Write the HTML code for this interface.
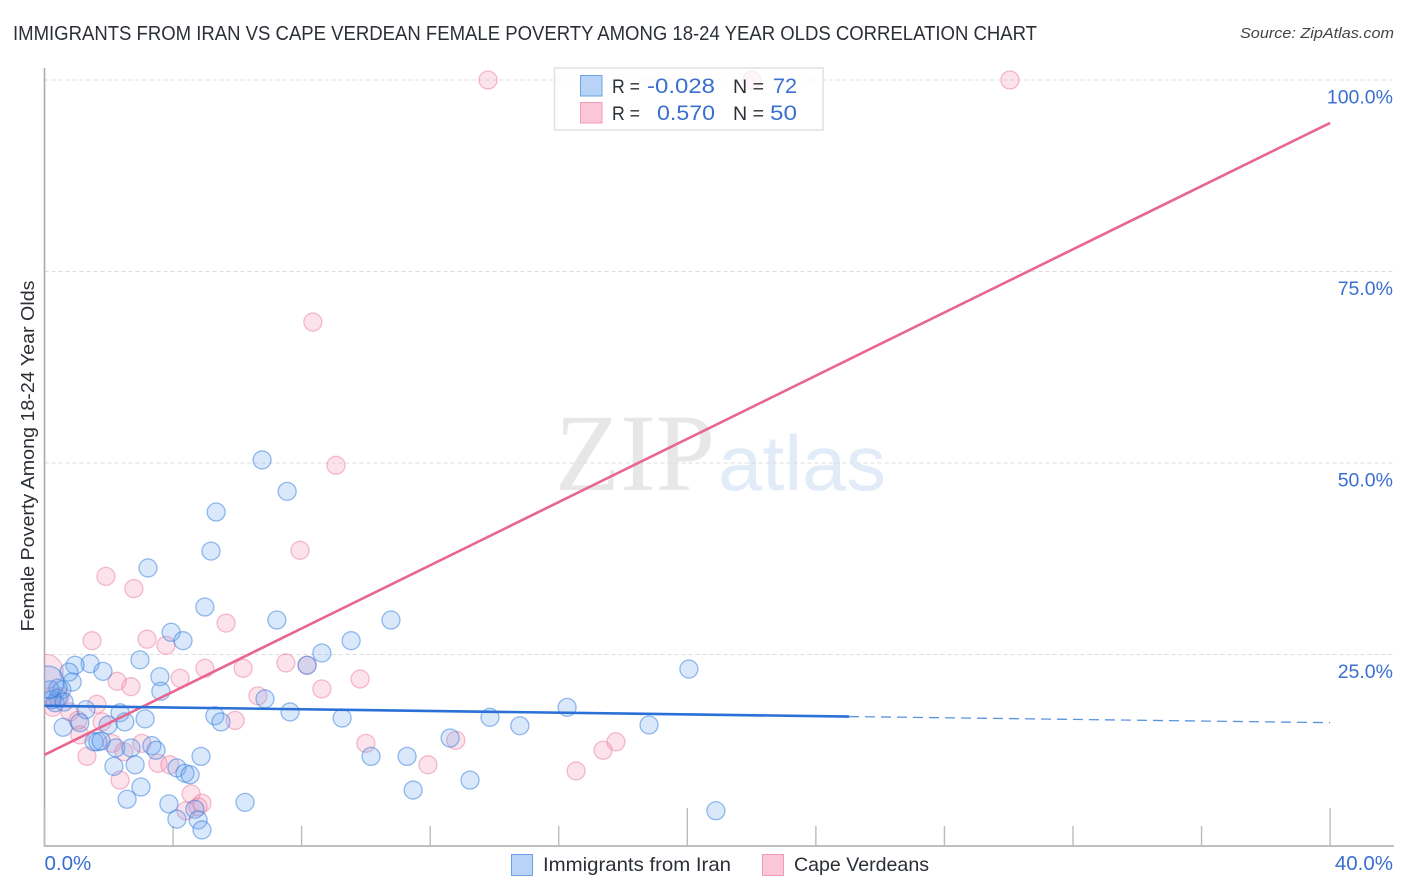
<!DOCTYPE html>
<html lang="en">
<head>
<meta charset="utf-8">
<title>Immigrants from Iran vs Cape Verdean Female Poverty Correlation Chart</title>
<style>
html,body{margin:0;padding:0;background:#fff;width:1406px;height:892px;overflow:hidden}
svg{display:block}
text{font-family:"Liberation Sans",sans-serif}
</style>
</head>
<body>
<svg id="chart" width="1406" height="892" viewBox="0 0 1406 892" xmlns="http://www.w3.org/2000/svg">
<defs><clipPath id="plot-clip"><rect x="44.5" y="60" width="1350" height="786"/></clipPath></defs>
<text x="13" y="40" font-size="20" fill="#2b2f36" textLength="1024" lengthAdjust="spacingAndGlyphs">IMMIGRANTS FROM IRAN VS CAPE VERDEAN FEMALE POVERTY AMONG 18-24 YEAR OLDS CORRELATION CHART</text>
<text x="1394" y="38" font-size="15" font-style="italic" fill="#444" text-anchor="end" textLength="154" lengthAdjust="spacingAndGlyphs">Source: ZipAtlas.com</text>
<g>
<text x="555" y="490" font-size="110" fill="#e7e7e7" textLength="160" lengthAdjust="spacingAndGlyphs" style="font-family:'Liberation Serif',serif">ZIP</text>
<text x="718" y="490" font-size="78" fill="#e2ebf8" textLength="168" lengthAdjust="spacingAndGlyphs">atlas</text>
</g>
<g id="grid"></g>
<g id="axes"></g>
<g id="points" clip-path="url(#plot-clip)"></g>
<g id="trends"></g>
<text transform="translate(34,456) rotate(-90)" font-size="18" fill="#2b2f36" text-anchor="middle" textLength="351" lengthAdjust="spacingAndGlyphs">Female Poverty Among 18-24 Year Olds</text>
<g>
<rect x="554.5" y="68" width="268.5" height="62" fill="#fff" fill-opacity=".72" stroke="#e2e2e2" stroke-width="1.6"/>
<rect x="580.5" y="75.5" width="21.5" height="20.5" fill="#b8d3f6" stroke="#6ba3e6" stroke-width="1"/>
<rect x="580.5" y="102.5" width="21.5" height="20.5" fill="#fcc6d9" stroke="#f29ab8" stroke-width="1"/>
<text x="612" y="93" font-size="19.5" fill="#2b2f36" textLength="28" lengthAdjust="spacingAndGlyphs">R =</text>
<text x="647" y="93" font-size="21.5" fill="#3a6fd0" textLength="68" lengthAdjust="spacingAndGlyphs">-0.028</text>
<text x="733" y="93" font-size="19.5" fill="#2b2f36" textLength="31" lengthAdjust="spacingAndGlyphs">N =</text>
<text x="773" y="93" font-size="21.5" fill="#3a6fd0" textLength="24" lengthAdjust="spacingAndGlyphs">72</text>
<text x="612" y="120" font-size="19.5" fill="#2b2f36" textLength="28" lengthAdjust="spacingAndGlyphs">R =</text>
<text x="657" y="120" font-size="21.5" fill="#3a6fd0" textLength="58" lengthAdjust="spacingAndGlyphs">0.570</text>
<text x="733" y="120" font-size="19.5" fill="#2b2f36" textLength="31" lengthAdjust="spacingAndGlyphs">N =</text>
<text x="770" y="120" font-size="21.5" fill="#3a6fd0" textLength="27" lengthAdjust="spacingAndGlyphs">50</text>
</g>
<g>
<rect x="511.5" y="854.5" width="21" height="21" fill="#b8d3f6" stroke="#6ba3e6" stroke-width="1"/>
<text x="543" y="871" font-size="19.5" fill="#2b2f36" textLength="188" lengthAdjust="spacingAndGlyphs">Immigrants from Iran</text>
<rect x="762.5" y="854.5" width="21" height="21" fill="#fcc6d9" stroke="#f29ab8" stroke-width="1"/>
<text x="794" y="871" font-size="19.5" fill="#2b2f36" textLength="135" lengthAdjust="spacingAndGlyphs">Cape Verdeans</text>
</g>
</svg>
<script>
const yTickValues = [25, 50, 75, 100];
const yTickLabels = ['25.0%', '50.0%', '75.0%', '100.0%'];
const xTickValues = [0, 4, 8, 12, 16, 20, 24, 28, 32, 36, 40];
const xEndValues = [0, 40];
const xEndLabels = ['0.0%', '40.0%'];

const iranX = [6.77,7.55,5.34,5.18,3.22,4.99,7.23,10.78,3.94,4.31,9.54,8.63,2.97,8.17,20.05,1.42,0.95,1.82,0.76,0.86,3.59,3.62,0.54,0.42,0.33,1.29,0.58,1.10,1.98,2.35,2.50,3.13,1.54,1.66,1.76,2.22,2.69,3.34,3.47,2.16,2.82,4.87,4.12,4.37,4.53,3.00,2.57,3.87,6.24,4.68,4.12,4.78,4.90,6.86,5.30,5.49,7.64,9.26,10.16,11.28,11.47,12.62,13.24,13.86,14.79,16.26,18.81,20.89,0.17,0.23,0.42,0.61];
const iranY = [50.4,46.3,43.6,38.5,36.3,31.2,29.5,29.5,27.9,26.8,26.8,25.2,24.3,23.6,23.1,23.8,23.6,22.8,22.7,21.4,22.1,20.2,20.4,19.3,18.7,17.8,15.5,16.1,15.8,17.4,16.2,16.6,13.6,13.6,13.7,12.8,12.8,13.1,12.5,10.4,10.6,11.7,10.2,9.5,9.3,7.7,6.1,5.5,5.7,4.8,3.5,3.4,2.1,19.2,17.0,16.2,17.5,16.7,11.7,11.7,7.3,14.1,8.6,16.8,15.7,18.1,15.8,4.6,20.4,19.1,20.6,18.8];
const iranLargeX = [0.11];
const iranLargeY = [21.4];

const capeX = [13.80,22.01,30.04,8.35,9.07,7.95,1.91,2.78,5.65,1.48,3.19,3.78,4.99,6.18,7.51,8.17,4.22,2.26,2.69,8.63,9.82,6.64,5.93,1.63,1.79,0.79,0.48,0.26,1.04,1.10,2.10,1.32,2.47,3.03,3.53,3.90,2.35,4.56,4.90,4.78,4.40,10.00,11.93,12.80,16.54,17.38,17.78,0.26];
const capeY = [100,100,100,68.4,49.7,38.6,35.2,33.6,29.1,26.8,27.0,26.2,23.2,23.2,23.9,23.6,21.9,21.5,20.8,20.5,21.8,19.6,16.4,18.5,16.2,17.5,19.5,18.1,16.4,14.5,13.4,11.7,12.3,13.4,10.8,10.6,8.6,6.8,5.6,5.1,4.6,13.4,10.6,13.8,9.8,12.5,13.6,19.5];
const capeLargeX = [0.05];
const capeLargeY = [22.8];

const iranTrendX = [0, 25.03];
const iranTrendY = [18.3, 16.9];
const iranTrendDashedX = [25.03, 40];
const iranTrendDashedY = [16.9, 16.1];
const capeTrendX = [0, 40];
const capeTrendY = [11.9, 94.4];

const NS = 'http://www.w3.org/2000/svg';
function sx(v) { return 44.5 + v * 32.14; }
function sy(v) { return 846 - v * 7.66; }
function make(tag, attrs, parent) {
  const el = document.createElementNS(NS, tag);
  for (const k in attrs) el.setAttribute(k, attrs[k]);
  parent.appendChild(el);
  return el;
}
const grid = document.getElementById('grid');
const axes = document.getElementById('axes');
const points = document.getElementById('points');
const trends = document.getElementById('trends');

yTickValues.forEach(function (v, i) {
  const line = make('line', {x1: 44.5, x2: 1394, y1: sy(v), y2: sy(v), stroke: '#dcdcdc', 'stroke-width': 1, 'stroke-dasharray': '4 3'}, grid);
  
  
  const label = make('text', {x: 1393, y: sy(v) + 23.5, 'font-size': 19.5, fill: '#3a6fd0', 'text-anchor': 'end'}, axes);
  label.textContent = yTickLabels[i];
  
  
});

const yAxis = make('line', {x1: 44.5, x2: 44.5, y1: 68, y2: 846.5, stroke: '#aaa', 'stroke-width': 1.6}, axes);


const xAxis = make('line', {x1: 44, x2: 1394, y1: 846, y2: 846, stroke: '#aaa', 'stroke-width': 1.6}, axes);



xTickValues.forEach(function (v, i) {
  const top = i % 5 === 0 ? 808 : 826;
  const tick = make('line', {x1: sx(v), x2: sx(v), y1: top, y2: 846, stroke: '#bbb', 'stroke-width': 1.4}, axes);
  
  
});

xEndValues.forEach(function (v, i) {
  const label = make('text', {x: i === 0 ? sx(v) : 1393, y: 870, 'font-size': 20.5, fill: '#3a6fd0', 'text-anchor': i === 0 ? 'start' : 'end'}, axes);
  label.textContent = xEndLabels[i];
  
  
});

function drawSeries(xs, ys, r, fill, stroke, name) {
  xs.forEach(function (v, i) {
    const c = make('circle', {cx: sx(v), cy: sy(ys[i]), r: r, fill: fill, 'fill-opacity': 0.25, stroke: stroke, 'stroke-opacity': 0.5, 'stroke-width': 1.3}, points);
    
    
  });
}
drawSeries(capeX, capeY, 9, '#f48fb1', '#ec7ba3', 'point-cape-verdean');
drawSeries(capeLargeX, capeLargeY, 17, '#f48fb1', '#ec7ba3', 'point-cape-verdean-large');
drawSeries(iranX, iranY, 9, '#6aa5ee', '#2f7bdc', 'point-iran');
drawSeries(iranLargeX, iranLargeY, 16, '#6aa5ee', '#2f7bdc', 'point-iran-large');

const capeTrend = make('line', {x1: sx(capeTrendX[0]), y1: sy(capeTrendY[0]), x2: sx(capeTrendX[1]), y2: sy(capeTrendY[1]), stroke: '#e8668f', 'stroke-width': 2.6}, trends);


const iranTrend = make('line', {x1: sx(iranTrendX[0]), y1: sy(iranTrendY[0]), x2: sx(iranTrendX[1]), y2: sy(iranTrendY[1]), stroke: '#2a70d6', 'stroke-width': 2.6}, trends);


const iranDash = make('line', {x1: sx(iranTrendDashedX[0]), y1: sy(iranTrendDashedY[0]), x2: sx(iranTrendDashedX[1]), y2: sy(iranTrendDashedY[1]), stroke: '#5c93e0', 'stroke-width': 1.3, 'stroke-dasharray': '10 6'}, trends);


</script>
</body>
</html>
